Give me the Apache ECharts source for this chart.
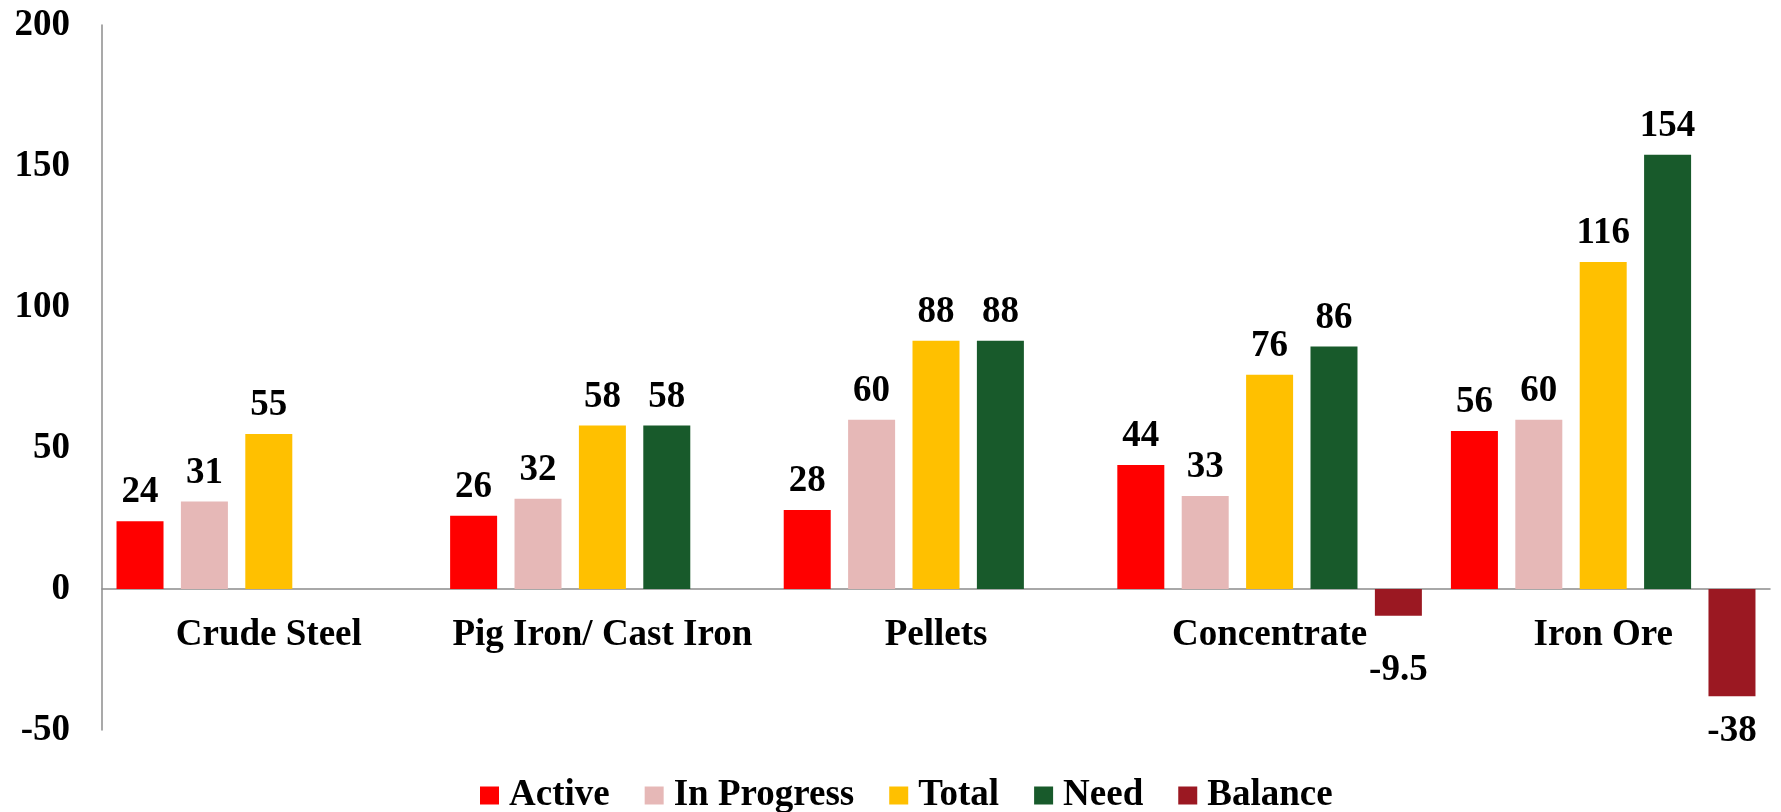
<!DOCTYPE html>
<html>
<head>
<meta charset="utf-8">
<script src="https://cdn.jsdelivr.net/npm/echarts@6/dist/echarts.min.js"></script>
<style>
html,body{margin:0;padding:0;background:#fff;}
#chart{width:1781px;height:812px;}
</style>
</head>
<body>
<div id="chart"></div>
<script>
const categories = ['Crude Steel', 'Pig Iron/ Cast Iron', 'Pellets', 'Concentrate', 'Iron Ore'];
const active = [24, 26, 28, 44, 56];
const inProgress = [31, 32, 60, 33, 60];
const total = [55, 58, 88, 76, 116];
const need = [null, 58, 88, 86, 154];
const balance = [null, null, null, -9.5, -38];
const seriesNames = ['Active', 'In Progress', 'Total', 'Need', 'Balance'];
const colors = ['#FF0000', '#E6B8B7', '#FFC000', '#185A2B', '#9B1822'];
const yTicks = {min: -50, max: 200, interval: 50};

const FONT = '"Liberation Serif", "Times New Roman", serif';

function toData(arr) {
  return arr.map(v => {
    if (v === null) return null;
    if (v < 0) {
      // small negative bars: label pushed further down (as in the original)
      return {value: v, label: {position: 'bottom', distance: 17, offset: [0, v > -20 ? 19 : 0]}};
    }
    return v;
  });
}

const allValues = [active, inProgress, total, need, balance];
const series = allValues.map((arr, i) => ({
  name: seriesNames[i],
  type: 'bar',
  data: toData(arr),
  barWidth: 47,
  barGap: '37%',
  itemStyle: {color: colors[i]},
  label: {
    show: true,
    position: 'top',
    distance: 10,
    color: '#000',
    fontFamily: FONT,
    fontWeight: 'bold',
    fontSize: 37
  }
}));

const chart = echarts.init(document.getElementById('chart'));
chart.setOption({
  animation: false,
  color: colors,
  grid: {left: 102, right: 11, top: 25, bottom: 82, containLabel: false},
  legend: {
    data: seriesNames,
    top: 777,
    left: 480,
    padding: 0,
    itemGap: 35,
    itemWidth: 19,
    itemHeight: 18,
    icon: 'rect',
    textStyle: {fontFamily: FONT, fontWeight: 'bold', fontSize: 37, lineHeight: 32, color: '#000', padding: [0, 0, 0, 5]}
  },
  xAxis: {
    type: 'category',
    data: categories,
    axisLine: {show: true, onZero: true, lineStyle: {color: '#8c8c8c', width: 1.5}},
    axisTick: {show: false},
    axisLabel: {
      interval: 0,
      margin: -113,
      color: '#000',
      fontFamily: FONT,
      fontWeight: 'bold',
      fontSize: 37
    }
  },
  yAxis: {
    type: 'value',
    min: yTicks.min,
    max: yTicks.max,
    interval: yTicks.interval,
    axisLine: {show: true, lineStyle: {color: '#8c8c8c', width: 1.5}},
    axisTick: {show: false},
    splitLine: {show: false},
    axisLabel: {
      margin: 32,
      color: '#000',
      fontFamily: FONT,
      fontWeight: 'bold',
      fontSize: 37
    }
  },
  series: series
});
</script>
</body>
</html>
